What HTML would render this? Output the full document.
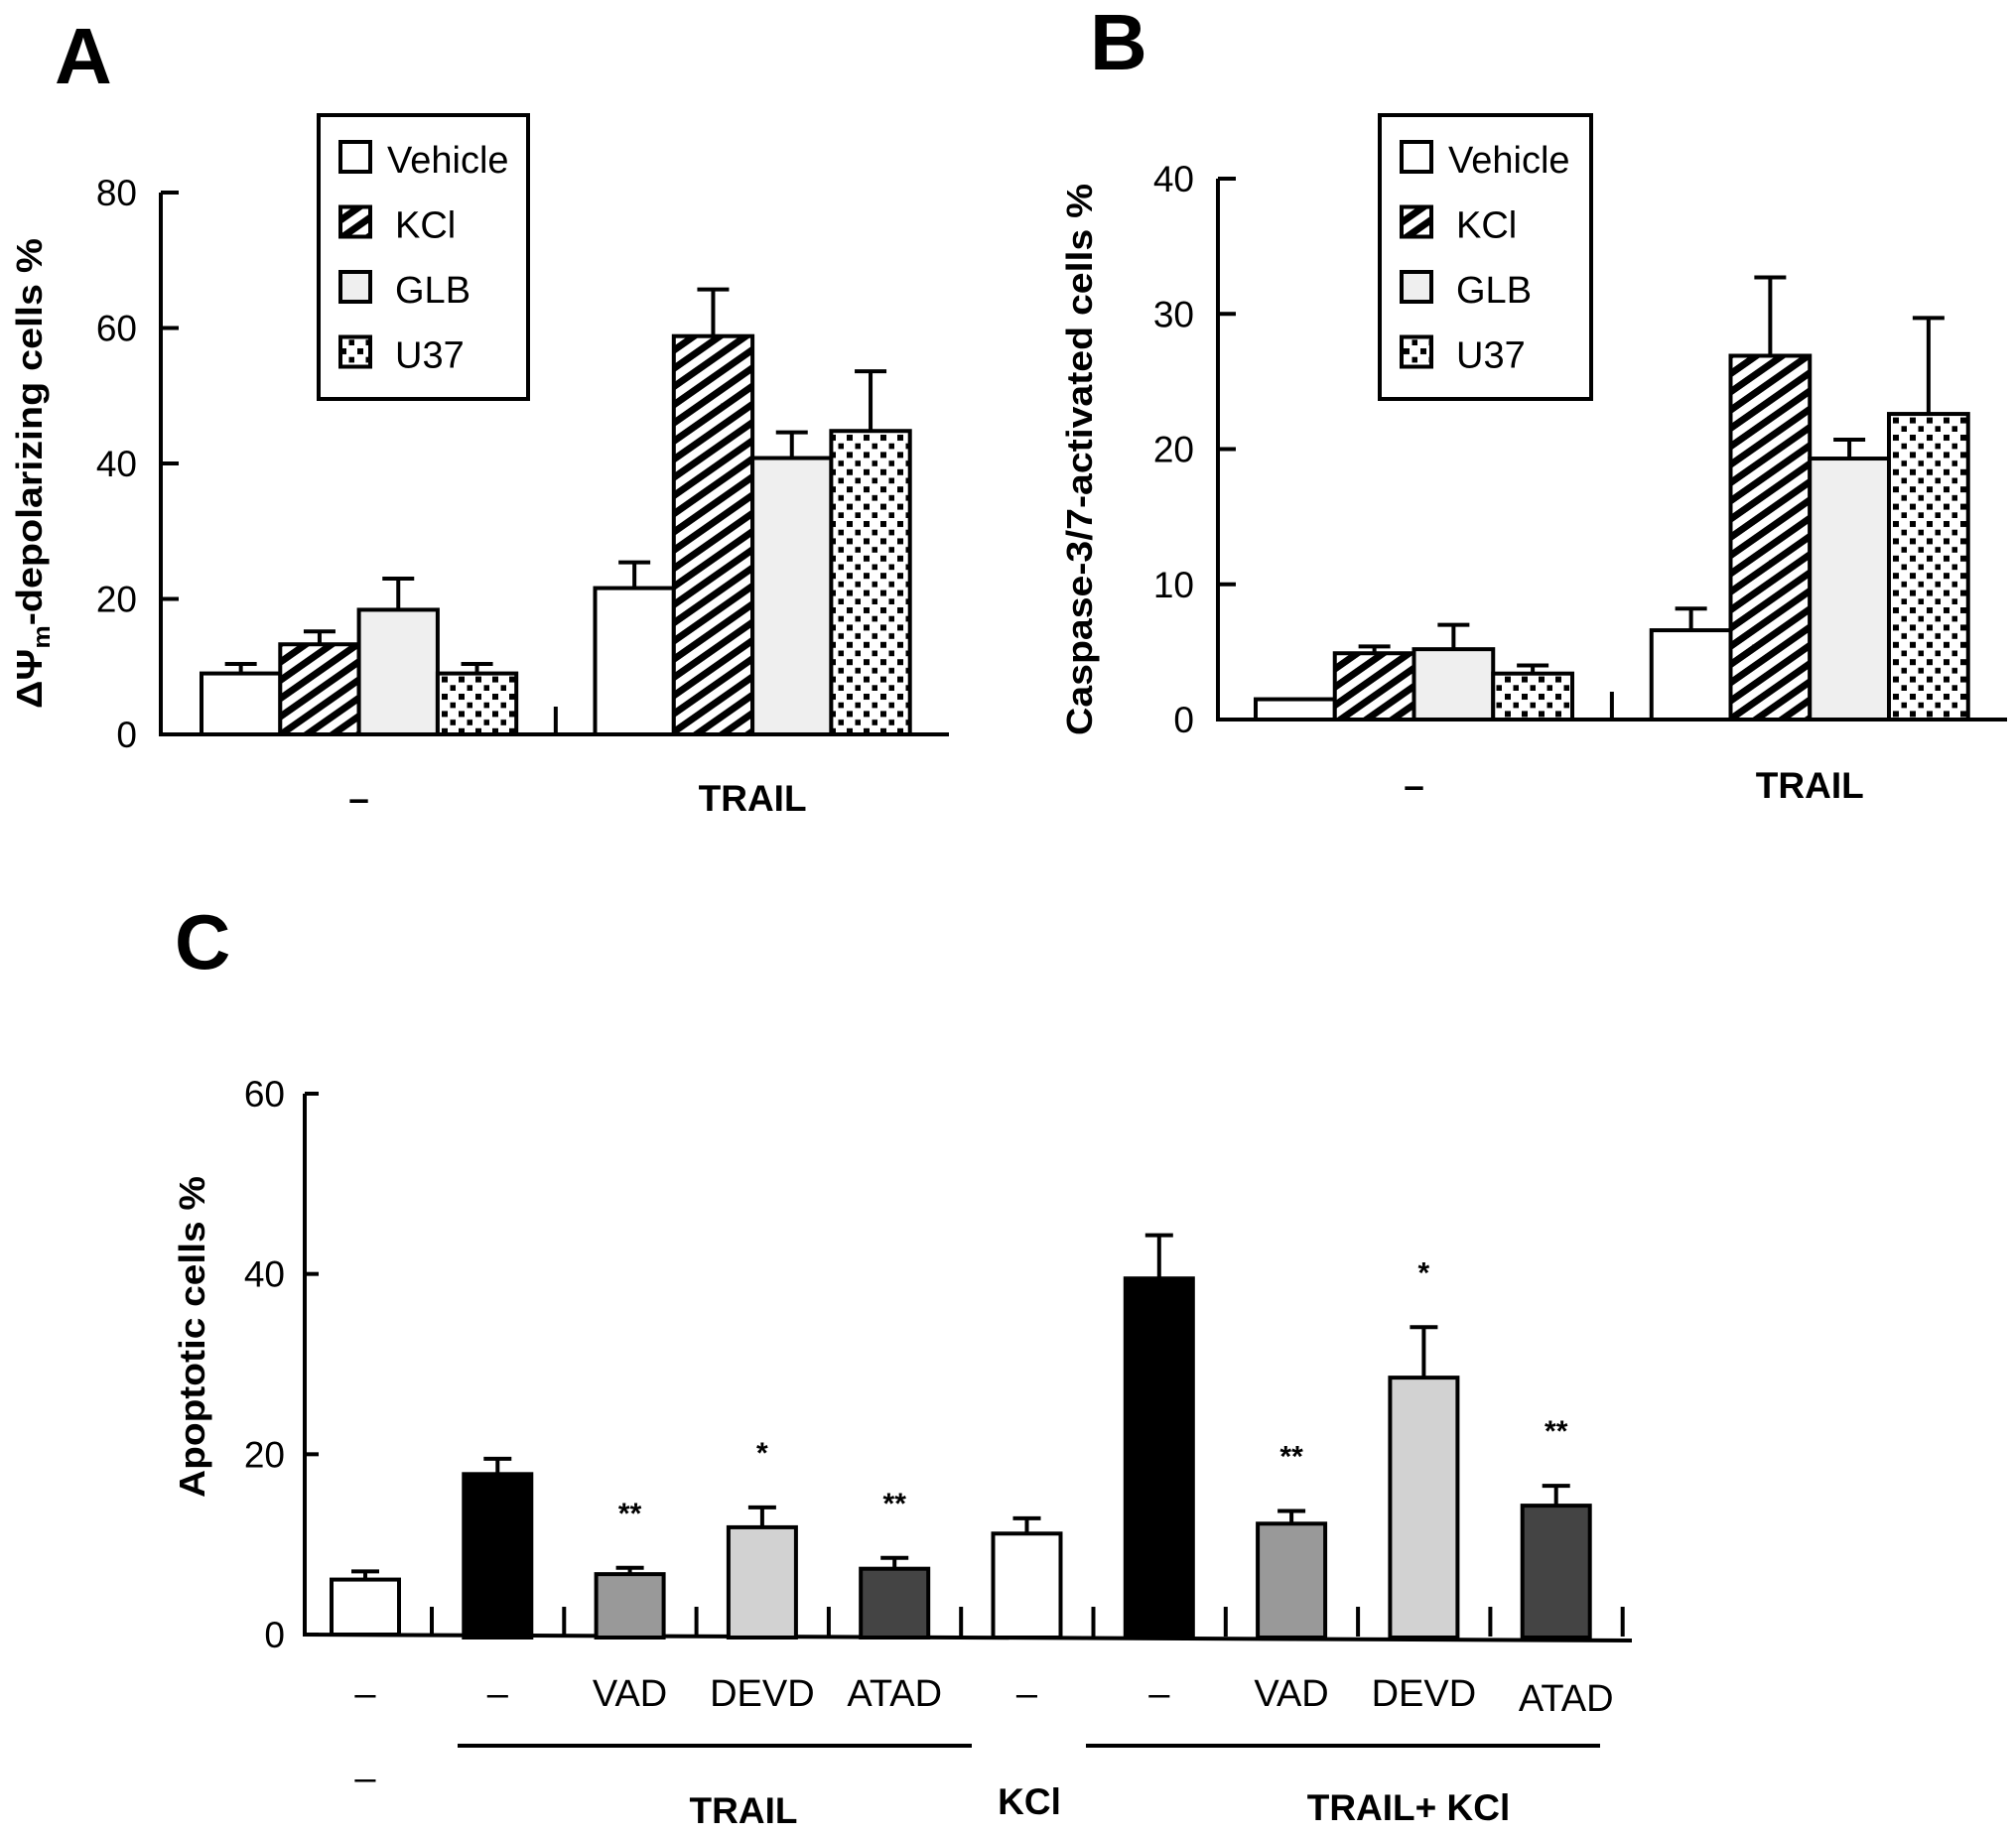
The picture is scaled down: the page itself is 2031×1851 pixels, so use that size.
<!DOCTYPE html>
<html><head><meta charset="utf-8"><style>
html,body{margin:0;padding:0;background:#fff;}
svg{display:block;font-family:"Liberation Sans",Arial,sans-serif;}
</style></head><body>
<svg id="fig" width="2031" height="1851" viewBox="0 0 2031 1851" xmlns="http://www.w3.org/2000/svg">
<defs>
<pattern id="hatch" patternUnits="userSpaceOnUse" width="15" height="15" patternTransform="rotate(-35)">
<rect width="15" height="15" fill="#fff"/><rect width="15" height="7" fill="#000"/>
</pattern>
<pattern id="dots" patternUnits="userSpaceOnUse" width="17" height="17.4">
<rect width="17" height="17.4" fill="#fff"/><rect x="3" y="3" width="6" height="6" fill="#000"/><rect x="11.5" y="11.7" width="6" height="6" fill="#000"/>
</pattern>
</defs>
<g id="panelA"></g>
<g id="panelB"></g>
<g id="panelC"></g>
</svg>
<script>
// Panel A data
const seriesNames = ["Vehicle","KCl","GLB","U37"];
const groupNamesAB = ["–","TRAIL"];
const aMeans = [[9.0,13.3,18.4,9.0],[21.6,58.8,40.8,44.8]];
const aErrTop = [[10.4,15.2,23.0,10.4],[25.4,65.7,44.6,53.6]];
const aTicks = [0,20,40,60,80];
// Panel B data
const bMeans = [[1.5,4.9,5.2,3.4],[6.6,26.9,19.3,22.6]];
const bErrTop = [[null,5.4,7.0,4.0],[8.2,32.7,20.7,29.7]];
const bTicks = [0,10,20,30,40];
// Panel C data
const cCats = ["–","–","VAD","DEVD","ATAD","–","–","VAD","DEVD","ATAD"];
const cMeans = [6.1,17.8,6.7,11.9,7.3,11.2,39.5,12.3,28.5,14.3];
const cErrTop = [7.0,19.5,7.4,14.1,8.5,12.9,44.3,13.7,34.1,16.5];
const cStars = ["","","**","*","**","","","**","*","**"];
const cTicks = [0,20,40,60];

const NS="http://www.w3.org/2000/svg";
function mk(parent,tag,attrs,text){const e=document.createElementNS(NS,tag);for(const k in attrs)e.setAttribute(k,attrs[k]);if(text!==undefined)e.textContent=text;parent.appendChild(e);return e;}
const fills=["#fff","url(#hatch)","#efefef","url(#dots)"];
const cFills=["#fff","#000","#999","#d2d2d2","#444","#fff","#000","#999","#d2d2d2","#444"];

function panelAB(g,o){
  const y=v=>o.y0-(v/o.max)*(o.y0-o.yTop);
  // axes
  let ax=mk(g,'line',{x1:o.ax,y1:o.yTop,x2:o.ax,y2:o.y0+2,stroke:'#000','stroke-width':4});
  
  let xa=mk(g,'line',{x1:o.ax-2,y1:o.y0,x2:o.xEnd,y2:o.y0,stroke:'#000','stroke-width':4});
  
  o.ticks.forEach(t=>{
    let tk=mk(g,'line',{x1:o.ax,y1:y(t),x2:o.ax+18,y2:y(t),stroke:'#000','stroke-width':4});
    
    let tl=mk(g,'text',{x:o.ax-24,y:y(t)+13,'font-size':37,'text-anchor':'end'},String(t));
    
  });
  // break tick
  let bk=mk(g,'line',{x1:o.x0+4.5*o.w,y1:o.y0-28,x2:o.x0+4.5*o.w,y2:o.y0,stroke:'#000','stroke-width':4});
  
  o.means.forEach((grp,gi)=>{
    grp.forEach((v,si)=>{
      const bx=o.x0+(gi*5+si)*o.w;
      const et=o.err[gi][si];
      if(et!==null){
        const cx=bx+o.w/2;
        let el=mk(g,'line',{x1:cx,y1:y(v),x2:cx,y2:y(et),stroke:'#000','stroke-width':4});
        
        let ec=mk(g,'line',{x1:cx-16,y1:y(et),x2:cx+16,y2:y(et),stroke:'#000','stroke-width':4});
        
      }
      let r=mk(g,'rect',{x:bx,y:y(v),width:o.w,height:o.y0-y(v),fill:fills[si],stroke:'#000','stroke-width':4});
      
      
    });
    const gc=o.x0+(gi*5+2)*o.w;
    let gl=mk(g,'text',{x:gc,y:o.glY,'font-size':37,'font-weight':'bold','text-anchor':'middle'},groupNamesAB[gi]);
    
  });
  // legend
  let lb=mk(g,'rect',{x:o.lx,y:116,width:o.lw,height:286,fill:'#fff',stroke:'#000','stroke-width':4});
  
  seriesNames.forEach((n,i)=>{
    const cy=158+65.5*i;
    let sw=mk(g,'rect',{x:o.lx+22,y:cy-15,width:30,height:30,fill:fills[i],stroke:'#000','stroke-width':4});
    
    let lt=mk(g,'text',{x:o.lx+(i===0?69:77),y:cy+16,'font-size':38},n);
    
  });
  // title & letter
  let yt=mk(g,'text',{x:0,y:0,'font-size':36,'font-weight':'bold','text-anchor':'middle',transform:`translate(${o.tx},${o.ty}) rotate(-90)`,textLength:o.tl,lengthAdjust:'spacingAndGlyphs'});
  
  if(o.psi){
    mk(yt,'tspan',{},'ΔΨ');mk(yt,'tspan',{'font-size':24,dy:8},'m');mk(yt,'tspan',{dy:-8},'-depolarizing cells %');
  } else yt.textContent=o.title;
  let pl=mk(g,'text',{x:o.px,y:o.py,'font-size':80,'font-weight':'bold'},o.letter);
  
}

panelAB(document.getElementById('panelA'),{ax:162,y0:740,yTop:194,max:80,xEnd:956,x0:203,w:79.3,means:aMeans,err:aErrTop,ticks:aTicks,glY:817,lx:321,lw:211,tx:42,ty:477,tl:474,psi:true,letter:'A',px:55,py:84});
panelAB(document.getElementById('panelB'),{ax:1227,y0:725,yTop:180,max:40,xEnd:2022,x0:1265,w:79.75,means:bMeans,err:bErrTop,ticks:bTicks,glY:804,lx:1390,lw:213,tx:1100,ty:463,tl:556,title:'Caspase-3/7-activated cells %',letter:'B',px:1098,py:70});

(function(){
  const g=document.getElementById('panelC');
  const ax=307,y0=1647,yTop=1102,max=60,x0=334,pitch=133.3,bw=68;
  const y=v=>y0-(v/max)*(y0-yTop);
  let a=mk(g,'line',{x1:ax,y1:yTop,x2:ax,y2:y0+2,stroke:'#000','stroke-width':4});
  
  let xa=mk(g,'line',{x1:ax-2,y1:y0,x2:1644,y2:y0+6,stroke:'#000','stroke-width':4});
  
  cTicks.forEach(t=>{
    let tk=mk(g,'line',{x1:ax,y1:y(t),x2:ax+14,y2:y(t),stroke:'#000','stroke-width':4});
    
    let tl=mk(g,'text',{x:ax-20,y:y(t)+13,'font-size':37,'text-anchor':'end'},String(t));
    
  });
  cMeans.forEach((v,i)=>{
    const bx=x0+i*pitch,cx=bx+bw/2;
    let tk=mk(g,'line',{x1:bx+101,y1:y0-28,x2:bx+101,y2:y0+2,stroke:'#000','stroke-width':4});
    
    let el=mk(g,'line',{x1:cx,y1:y(v),x2:cx,y2:y(cErrTop[i]),stroke:'#000','stroke-width':4});
    
    let ec=mk(g,'line',{x1:cx-14,y1:y(cErrTop[i]),x2:cx+14,y2:y(cErrTop[i]),stroke:'#000','stroke-width':4});
    
    let r=mk(g,'rect',{x:bx,y:y(v),width:bw,height:y0-y(v)+(i>0?3:0),fill:cFills[i],stroke:'#000','stroke-width':4});
    
    if(cStars[i]){
      let st=mk(g,'text',{x:cx,y:y(cErrTop[i])-45,'font-size':30,'font-weight':'bold','text-anchor':'middle'},cStars[i]);
      
    }
    let cl=mk(g,'text',{x:cx+(i===9?10:0),y:i===9?1724:1719,'font-size':38,'text-anchor':'middle'},cCats[i]);
    
  });
  let l1=mk(g,'line',{x1:461,y1:1759,x2:979,y2:1759,stroke:'#000','stroke-width':4});
  
  let l2=mk(g,'line',{x1:1094,y1:1759,x2:1612,y2:1759,stroke:'#000','stroke-width':4});
  
  let d2=mk(g,'text',{x:368,y:1804,'font-size':38,'text-anchor':'middle'},'–');
  
  [['TRAIL',749,1837],['KCl',1037,1828],['TRAIL+ KCl',1419,1834]].forEach(t=>{
    let e=mk(g,'text',{x:t[1],y:t[2],'font-size':37,'font-weight':'bold','text-anchor':'middle'},t[0]);
    
  });
  let yt=mk(g,'text',{x:0,y:0,'font-size':36,'font-weight':'bold','text-anchor':'middle',transform:'translate(206,1347) rotate(-90)',textLength:324,lengthAdjust:'spacingAndGlyphs'},'Apoptotic cells %');
  
  let pl=mk(g,'text',{x:176,y:976,'font-size':78,'font-weight':'bold'},'C');
  
})();
</script>
</body></html>
